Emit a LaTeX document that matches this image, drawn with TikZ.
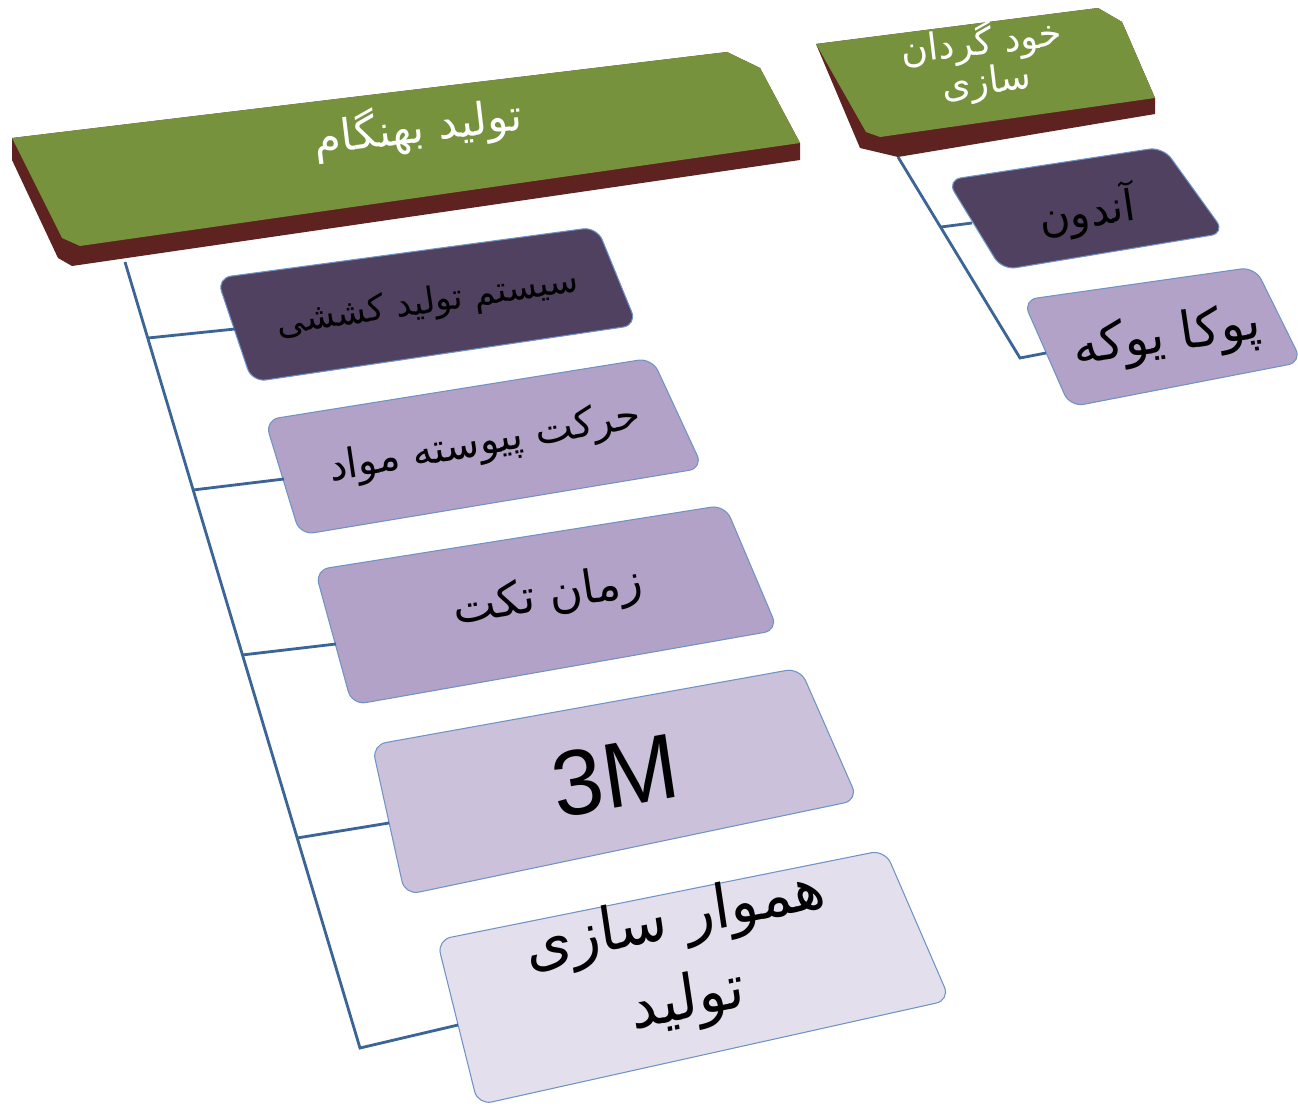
\documentclass[tikz,border=0pt]{standalone}
\usepackage{fontspec}
\newfontfamily\arabicfont[Script=Arabic]{DejaVu Sans}
\newfontfamily\latinfont{Liberation Sans}
\TeXXeTstate=1
\definecolor{hdgreen}{HTML}{76923C}
\definecolor{hdred}{HTML}{5E2220}
\definecolor{boxdark}{HTML}{4F415F}
\definecolor{boxmid}{HTML}{B3A2C7}
\definecolor{boxlight}{HTML}{CCC1DA}
\definecolor{boxpale}{HTML}{E4DFEC}
\definecolor{boxedge}{HTML}{6F93C6}
\definecolor{linkblue}{HTML}{3A6596}

\begin{document}
\begin{tikzpicture}[x=0.02cm, y=-0.02cm,
  card/.style={draw=boxedge, line width=0.6pt, rounded corners=8pt},
  link/.style={draw=linkblue, line width=1.6pt},
  cardtext/.style={font=\arabicfont\fontsize{20}{30}\selectfont, align=center, inner sep=0pt},
  headtext/.style={cardtext, text=white},
]
\useasboundingbox (0,0) rectangle (1298,1108);

%%% just-in-time column %%%

      %% header block
      \fill[hdred] (12,138) -- (727,52) -- (760,68) -- (800,143) -- (800,160) -- (72,266) -- (58,258) -- (12,160) -- cycle;
      \fill[hdgreen] (12,138) -- (727,52) -- (760,68) -- (800,143) -- (80,246) -- (62,238) -- cycle;
      \node[headtext, font=\arabicfont\fontsize{25}{30}\selectfont, cm={0.993,0.12,-0.12,1,(0,0)}] (jit) at (418,128) {\beginR تولید بهنگام\endR};
      %
      \filldraw[card, fill=boxdark] (217,278) -- (597,227) -- (637,325) -- (252,382) -- cycle;
      \node[cardtext, cm={0.989,0.145,-0.15,1,(0,0)}] (pull) at (428,304) {\beginR سیستم تولید کششی\endR};
      %
      \filldraw[card, fill=boxmid] (265,420) -- (652,358) -- (703,468) -- (300,535) -- cycle;
      \node[cardtext, font=\arabicfont\fontsize{23}{30}\selectfont, cm={0.985,0.17,-0.15,1,(0,0)}] (flow) at (485,444) {\beginR حرکت پیوسته مواد\endR};
      %
      \filldraw[card, fill=boxmid] (315,570) -- (725,505) -- (778,630) -- (352,705) -- cycle;
      \node[cardtext, font=\arabicfont\fontsize{26}{30}\selectfont, cm={0.988,0.156,-0.15,1,(0,0)}] (takt) at (548,598) {\beginR زمان تکت\endR};
      %
      \filldraw[card, fill=boxlight] (372,745) -- (800,668) -- (858,800) -- (405,895) -- cycle;
      \node[cardtext, font=\latinfont\fontsize{52}{56}\selectfont, cm={0.984,0.177,-0.15,1,(0,0)}] (mmm) at (615,776) {3M};
      %
      \filldraw[card, fill=boxpale] (437,940) -- (885,850) -- (950,1000) -- (478,1105) -- cycle;
      \node[cardtext, font=\arabicfont\fontsize{34}{46}\selectfont, cm={0.98,0.2,-0.15,1,(0,0)}] (level) at (682,962) {\beginR هموار سازی\endR\\\beginR تولید\endR};

      %% connectors
      \coordinate (jit-foot) at (125,262);
      \coordinate (jit-end) at (360,1048);
      \coordinate (pull-s) at (148,338);   \coordinate (pull-in) at (235,329);
      \coordinate (flow-s) at (193,490);   \coordinate (flow-in) at (284,479);
      \coordinate (takt-s) at (242,655);   \coordinate (takt-in) at (336,644);
      \coordinate (mmm-s) at (297,838);    \coordinate (mmm-in) at (389,823);
      \coordinate (level-in) at (458,1025);
      \draw[link] (jit-foot) -- (jit-end) -- (level-in);
      \foreach \item in {pull, flow, takt, mmm}
        \draw[link] (\item-s) -- (\item-in);

%%% autonomation column %%%

      %% header block
      \fill[hdred] (816,44) -- (1098,8) -- (1122,22) -- (1155,98) -- (1155,114) -- (898,157) -- (860,148) -- cycle;
      \fill[hdgreen] (816,44) -- (1098,8) -- (1122,22) -- (1155,98) -- (880,137) -- (866,132) -- cycle;
      \node[headtext, font=\arabicfont\fontsize{21}{19}\selectfont, cm={0.993,0.115,-0.12,1,(0,0)}] (jidoka) at (984,62) {\beginR خود گردان\endR\\\beginR سازی\endR};
      %
      \filldraw[card, fill=boxdark] (947,180) -- (1163,147) -- (1225,233) -- (1002,270) -- cycle;
      \node[cardtext, font=\arabicfont\fontsize{24}{30}\selectfont, cm={0.988,0.15,-0.15,1,(0,0)}] (andon) at (1087,212) {\beginR آندون\endR};
      %
      \filldraw[card, fill=boxmid] (1023,300) -- (1255,267) -- (1302,362) -- (1070,407) -- cycle;
      \node[cardtext, font=\arabicfont\fontsize{29}{30}\selectfont, cm={0.99,0.14,-0.15,1,(0,0)}] (poka) at (1167,338) {\beginR پوکا یوکه\endR};

      %% connectors
      \coordinate (jidoka-foot) at (898,157);
      \coordinate (jidoka-end) at (1020,358);
      \coordinate (andon-s) at (941,227);  \coordinate (andon-in) at (972,223);
      \coordinate (poka-in) at (1046,353);
      \draw[link] (jidoka-foot) -- (jidoka-end) -- (poka-in);
      \draw[link] (andon-s) -- (andon-in);

\end{tikzpicture}
\end{document}
